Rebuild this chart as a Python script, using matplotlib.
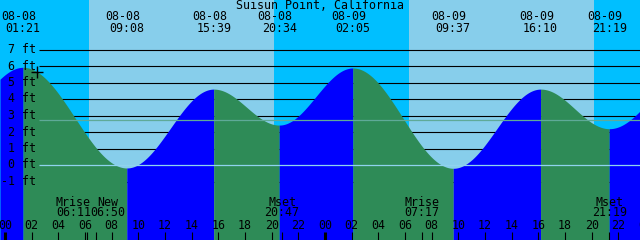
import numpy as np
import matplotlib
matplotlib.use("Agg")
import matplotlib.pyplot as plt
from matplotlib.transforms import blended_transform_factory

# ---- data -------------------------------------------------------------
title = "Suisun Point, California"

# labelled high / low tides (day 0 = 08-08, day 1 = 08-09)
tide_days = [0, 0, 0, 0, 1, 1, 1, 1]
tide_dates = ["08-08", "08-08", "08-08", "08-08", "08-09", "08-09", "08-09", "08-09"]
tide_times = ["01:21", "09:08", "15:39", "20:34", "02:05", "09:37", "16:10", "21:19"]
tide_feet = [5.92, -0.18, 4.6, 2.42, 5.88, -0.2, 4.6, 2.2]

# extremes just outside the window (hours from 08-08 00:00, feet)
prev_extreme = (-4.5, 2.3)
next_extreme = (51.6, 5.8)

# sun (hours from 08-08 00:00)
sunrise_hours = [6.3, 30.3]
sunset_hours = [20.17, 44.17]

# moon events
moon_days = [0, 0, 0, 1, 1]
moon_names = ["Mrise", "New", "Mset", "Mrise", "Mset"]
moon_times = ["06:11", "06:50", "20:47", "07:17", "21:19"]
moon_shift_px = [-14, 12, 0, 0, 0]   # label nudges so they don't collide

now_hour = 2.4                     # the "+" marker
msl_feet = 2.71
feet_levels = list(range(-1, 8))
hour_labels = list(range(0, 50, 2))

# ---- colours ----------------------------------------------------------
NIGHT = "#00BFFF"
DAY = "#87CEEB"
RISE = "#0000FF"
FALL = "#2E8B57"
DATUM = "#8FD3EE"
MSLC = "#5FAA98"

# ---- geometry (pixels of a 640x240 image) -----------------------------
W, H = 640, 240
X0, PXH = 5.0, 320 / 24        # x pixel of 00:00, pixels per hour
Y0, PXF = 165.0, 16.5          # y pixel of 0 ft, pixels per foot
FS = 8.4


def hours(day, hhmm):
    hh, mm = hhmm.split(":")
    return day * 24 + int(hh) + int(mm) / 60


ext_h = [prev_extreme[0]] + [hours(d, t) for d, t in zip(tide_days, tide_times)] + [next_extreme[0]]
ext_f = [prev_extreme[1]] + tide_feet + [next_extreme[1]]


def tide_at(t):
    t = np.atleast_1d(t).astype(float)
    out = np.empty_like(t)
    for i in range(len(ext_h) - 1):
        m = (t >= ext_h[i]) & (t <= ext_h[i + 1])
        f = (t[m] - ext_h[i]) / (ext_h[i + 1] - ext_h[i])
        out[m] = ext_f[i] + (ext_f[i + 1] - ext_f[i]) * (1 - np.cos(np.pi * f)) / 2
    return out


xmin, xmax = -X0 / PXH, (W - X0) / PXH
ymin, ymax = (Y0 - H) / PXF, Y0 / PXF

fig = plt.figure(figsize=(6.4, 2.4), dpi=100)
ax = fig.add_axes([0, 0, 1, 1])
ax.set_xlim(xmin, xmax)
ax.set_ylim(ymin, ymax)
ax.axis("off")

# day / night background
ax.axvspan(xmin, xmax, color=NIGHT, lw=0, zorder=0)
for sr, ss in zip(sunrise_hours, sunset_hours):
    ax.axvspan(sr, ss, color=DAY, lw=0, zorder=0.5)

# foot lines behind the water
line_x0 = (39 - X0) / PXH
ax.hlines([f for f in feet_levels if f != 0], line_x0, xmax, color="black",
          lw=0.8, zorder=1)

# water, coloured by rising / falling
for i in range(len(ext_h) - 1):
    a, b = max(ext_h[i], xmin), min(ext_h[i + 1], xmax)
    if a >= b:
        continue
    tt = np.linspace(a, b, 300)
    col = RISE if ext_f[i + 1] > ext_f[i] else FALL
    ax.fill_between(tt, tide_at(tt), ymin, color=col, lw=0, zorder=2)

# datum and mean sea level lines on top
ax.hlines([0], line_x0, xmax, color=DATUM, lw=0.9, zorder=3)
ax.hlines([msl_feet], line_x0, xmax, color=MSLC, lw=0.9, zorder=3)

# now marker
ax.plot([now_hour], tide_at(now_hour), marker="+", ms=8, mew=1.0,
        color="black", zorder=5)

mono = "DejaVu Sans Mono"
tx = blended_transform_factory(ax.transData, fig.transFigure)
ty = blended_transform_factory(fig.transFigure, ax.transData)


def fy(px):
    return 1 - px / H


# title
fig.text(0.5, fy(5.5), title, ha="center", va="center", fontsize=FS, family=mono)

# tide extreme labels
for d, t, ds in zip(tide_days, tide_times, tide_dates):
    h = hours(d, t)
    ax.text(h - 4 / PXH, fy(17), ds, transform=tx, ha="center", va="center",
            fontsize=FS, family=mono, zorder=6)
    ax.text(h, fy(29), t, transform=tx, ha="center", va="center",
            fontsize=FS, family=mono, zorder=6)

# feet labels
for f in feet_levels:
    ax.text(36 / W, f, f"{f} ft", transform=ty, ha="right", va="center",
            fontsize=FS, family=mono, zorder=6)

# hour labels and ticks
for h in hour_labels:
    ax.text(h, fy(225.5), f"{h % 24:02d}", transform=tx, ha="center",
            va="center", fontsize=FS, family=mono, zorder=6)
    ax.plot([h, h], [fy(232), fy(240)], transform=tx, color="black",
            lw=2.2 if h % 24 == 0 else 0.8, solid_capstyle="butt", zorder=6)

# moon events
for d, n, t, s in zip(moon_days, moon_names, moon_times, moon_shift_px):
    h = hours(d, t)
    ax.plot([h, h], [fy(232), fy(240)], transform=tx, color="black", lw=0.8,
            solid_capstyle="butt", zorder=6)
    ax.text(h + s / PXH, fy(202), n, transform=tx, ha="center", va="center",
            fontsize=FS, family=mono, zorder=6)
    ax.text(h + s / PXH, fy(213), t, transform=tx, ha="center", va="center",
            fontsize=FS, family=mono, zorder=6)

fig.savefig("out.png", dpi=100)
